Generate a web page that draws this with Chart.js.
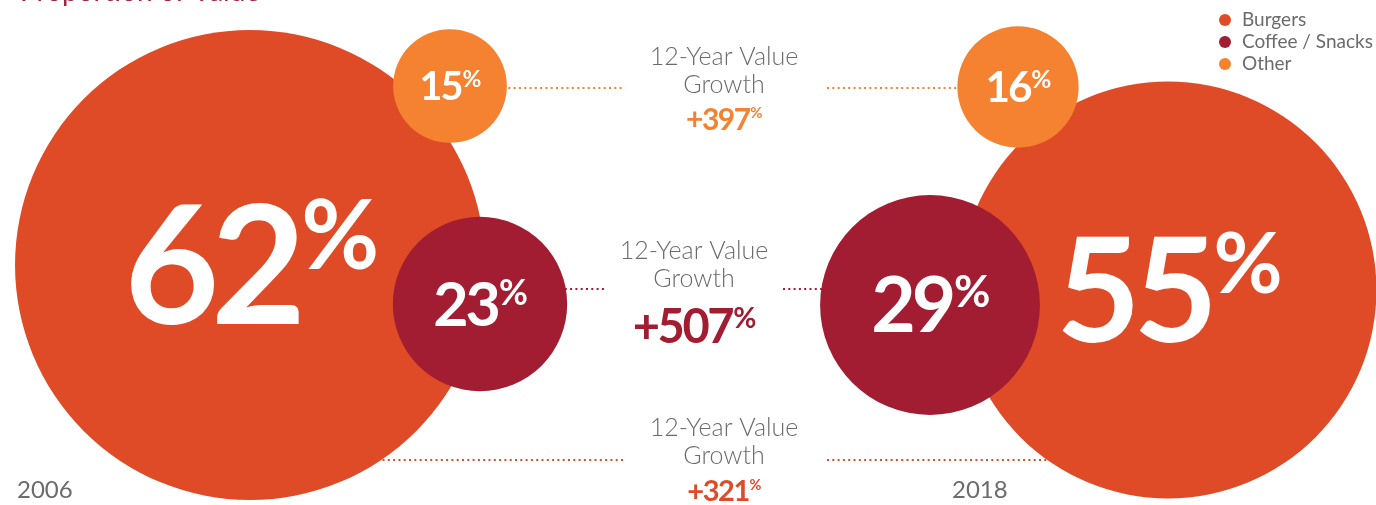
<!DOCTYPE html>
<html>
<head>
<meta charset="utf-8">
<title>Proportion of Value</title>
<script src="https://cdn.jsdelivr.net/npm/chart.js@4.4.1/dist/chart.umd.min.js"></script>
<style>
    html, body { margin: 0; padding: 0; background: #fff; }
    #wrap { width: 1376px; height: 505px; position: relative; }
</style>
</head>
<body>
<div id="wrap"><canvas id="value-chart" width="1376" height="505"></canvas></div>
<script>
// --- DATOS ---
const categories = ['Burgers', 'Coffee / Snacks', 'Other'];
const years = ['2006', '2018'];
const share2006 = [62, 23, 15];
const share2018 = [55, 29, 16];
const growth = [321, 507, 397];

// --- ESTILO Y DISPOSICIÓN ---
const colors = ['#E04B27', '#A21D32', '#F58230'];
const textGray = '#6b6b6b';
const pxPerPoint = 3.79;                 // bubble radius per share point
const pos2006 = [[250, 265], [480, 304], [450, 86]];
const pos2018 = [[1168, 290], [930, 305], [1018, 87]];
const growthLabelX = [724, 694, 724];
const growthLabelY = [436, 259, 65];     // baseline of "12-Year Value"
const growthSize = [29, 47, 30];
const growthPct = [0.5, 0.6, 0.5];
const connectorY = [460, 289, 88];
const connectorGap = [[625, 827], [605, 783], [625, 827]];
const yearLabelX = [17, 952];

// digits with a raised, smaller percent sign
function drawPercent(ctx, num, cx, baseline, size, pctRatio, color) {
    const pctSize = size * pctRatio;
    ctx.fillStyle = color;
    ctx.textBaseline = 'alphabetic';
    ctx.textAlign = 'left';
    ctx.letterSpacing = `${-0.05 * size}px`;
    ctx.font = `700 ${size}px Lato`;
    const numW = ctx.measureText(num).width;
    ctx.letterSpacing = '0px';
    ctx.font = `700 ${pctSize}px Lato`;
    const pctW = ctx.measureText('%').width;
    const x0 = cx - (numW + pctW) / 2;
    ctx.letterSpacing = `${-0.05 * size}px`;
    ctx.font = `700 ${size}px Lato`;
    ctx.fillText(num, x0, baseline);
    ctx.letterSpacing = '0px';
    const cap = size * 0.7165;
    ctx.font = `700 ${pctSize}px Lato`;
    ctx.fillText('%', x0 + numW + size * 0.02, baseline - cap + pctSize * 0.72 - cap * 0.05);
}

const backgroundPlugin = {
    id: 'connectors',
    beforeDatasetsDraw(chart) {
        const { ctx, scales: { x, y } } = chart;
        ctx.save();
        ctx.lineWidth = 2;
        ctx.setLineDash([2, 3.3]);
        categories.forEach((c, i) => {
            const yy = y.getPixelForValue(connectorY[i]);
            ctx.strokeStyle = colors[i];
            ctx.beginPath();
            ctx.moveTo(x.getPixelForValue(pos2006[i][0]), yy);
            ctx.lineTo(x.getPixelForValue(connectorGap[i][0]), yy);
            ctx.moveTo(x.getPixelForValue(connectorGap[i][1]), yy);
            ctx.lineTo(x.getPixelForValue(pos2018[i][0]), yy);
            ctx.stroke();
        });
        ctx.restore();
    }
};

const labelPlugin = {
    id: 'labels',
    afterDatasetsDraw(chart) {
        const { ctx, scales: { x, y } } = chart;
        ctx.save();

        // share values inside the bubbles
        chart.data.datasets.forEach((ds, di) => {
            const meta = chart.getDatasetMeta(di);
            meta.data.forEach((el, pi) => {
                const r = el.options.radius;
                const cap = r * 0.5;
                const size = cap / 0.7165;
                drawPercent(ctx, String(ds.shares[pi]), el.x, el.y + cap / 2, size, 0.58, '#fff');
            });
        });

        // growth labels between the years
        categories.forEach((c, i) => {
            const gx = x.getPixelForValue(growthLabelX[i]);
            const gy = y.getPixelForValue(growthLabelY[i]);
            ctx.fillStyle = textGray;
            ctx.textAlign = 'center';
            ctx.textBaseline = 'alphabetic';
            ctx.font = '300 25px Lato';
            ctx.fillText('12-Year Value', gx, gy);
            ctx.fillText('Growth', gx, gy + 28);
            const numY = gy + (growthSize[i] > 35 ? 84 : 65);
            drawPercent(ctx, '+' + growth[i], gx, numY, growthSize[i], growthPct[i], colors[i]);
        });

        // year labels
        ctx.fillStyle = textGray;
        ctx.textAlign = 'left';
        ctx.font = '400 24px Lato';
        years.forEach((yr, i) => ctx.fillText(yr, yearLabelX[i], 498));

        // title, cropped at the top edge
        ctx.fillStyle = '#A8223C';
        ctx.font = '400 28px Lato';
        ctx.fillText('Proportion of Value', 20, 1);

        // legend
        ctx.font = '400 19px Lato';
        ctx.textBaseline = 'middle';
        categories.forEach((c, i) => {
            const ly = 20 + i * 22;
            ctx.fillStyle = colors[i];
            ctx.beginPath();
            ctx.arc(1225, ly, 6, 0, Math.PI * 2);
            ctx.fill();
            ctx.fillStyle = textGray;
            ctx.fillText(c, 1242, ly);
        });
        ctx.restore();
    }
};

// Burgers last so the big bubbles sit underneath the others
const datasets = categories.map((c, i) => ({
    label: c,
    shares: [share2006[i], share2018[i]],
    data: [
        { x: pos2006[i][0], y: pos2006[i][1], r: share2006[i] * pxPerPoint },
        { x: pos2018[i][0], y: pos2018[i][1], r: share2018[i] * pxPerPoint }
    ],
    backgroundColor: colors[i],
    hoverBackgroundColor: colors[i],
    borderWidth: 0,
    hoverBorderWidth: 0,
    hoverRadius: 0,
    order: categories.length - i
})).reverse();

const ctx = document.getElementById('value-chart').getContext('2d');
new Chart(ctx, {
    type: 'bubble',
    data: { datasets },
    options: {
        responsive: false,
        animation: false,
        clip: false,
        events: [],
        layout: { padding: 0, autoPadding: false },
        plugins: {
            legend: { display: false },
            tooltip: { enabled: false }
        },
        scales: {
            x: { type: 'linear', min: 0, max: 1376, display: false },
            y: { type: 'linear', min: 0, max: 505, reverse: true, display: false }
        }
    },
    plugins: [backgroundPlugin, labelPlugin]
});
</script>
</body>
</html>
